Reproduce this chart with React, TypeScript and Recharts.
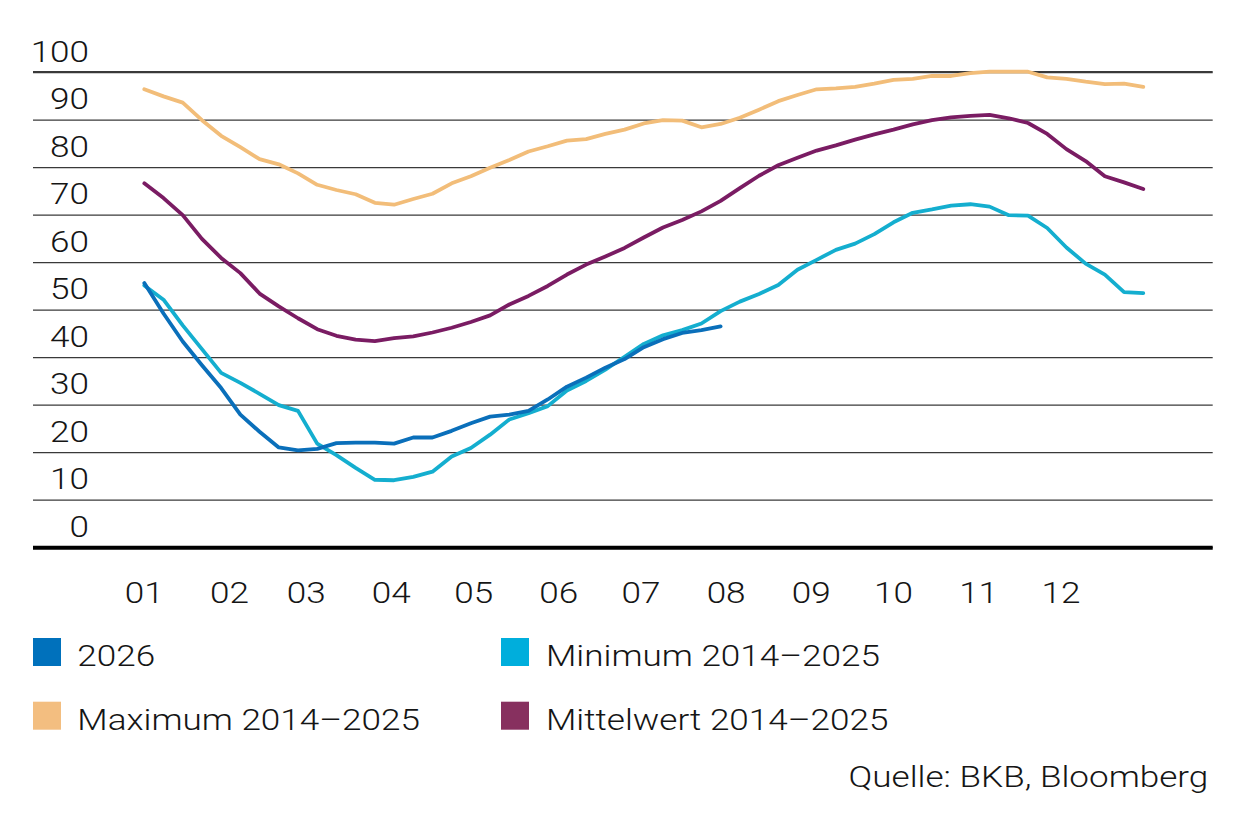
import React from 'react';
import { LineChart, Line, XAxis, YAxis, CartesianGrid } from 'recharts';

// Day-of-year of each weekly observation
const days = [0, 7, 14, 21, 28, 35, 42, 49, 56, 63, 70, 77, 84, 91, 98, 105, 112, 119, 126, 133, 140, 147, 154, 161, 168, 175, 182, 189, 196, 203, 210, 217, 224, 231, 238, 245, 252, 259, 266, 273, 280, 287, 294, 301, 308, 315, 322, 329, 336, 343, 350, 357, 364];

const series2026 = [55.7, 49.3, 43.4, 38.4, 33.6, 28.0, 24.4, 21.1, 20.5, 20.8, 22.0, 22.1, 22.1, 21.9, 23.2, 23.2, 24.6, 26.2, 27.6, 28.0, 28.8, 31.2, 33.9, 35.8, 37.9, 39.7, 42.2, 43.9, 45.2, 45.8, 46.6];

const seriesMin = [55.2, 52.2, 46.8, 41.8, 36.8, 34.7, 32.4, 30.0, 28.8, 21.9, 19.5, 16.8, 14.3, 14.2, 14.9, 16.0, 19.2, 21.0, 23.8, 27.0, 28.3, 29.8, 33.1, 35.1, 37.5, 40.2, 42.9, 44.7, 45.8, 47.2, 49.8, 51.8, 53.4, 55.3, 58.5, 60.6, 62.7, 64.0, 66.0, 68.5, 70.5, 71.2, 72.0, 72.3, 71.8, 70.0, 69.9, 67.3, 63.2, 59.8, 57.5, 53.8, 53.6];

const seriesMax = [96.5, 95.0, 93.7, 90.0, 86.7, 84.3, 81.8, 80.7, 78.8, 76.4, 75.3, 74.4, 72.6, 72.2, 73.4, 74.5, 76.7, 78.2, 80.0, 81.6, 83.4, 84.5, 85.7, 86.0, 87.1, 88.0, 89.3, 90.0, 89.9, 88.5, 89.2, 90.5, 92.2, 94.0, 95.3, 96.5, 96.7, 97.0, 97.7, 98.5, 98.7, 99.3, 99.3, 99.9, 100.2, 100.2, 100.2, 99.0, 98.7, 98.1, 97.6, 97.7, 97.0];

const seriesMean = [76.7, 73.6, 70.0, 65.0, 61.0, 57.8, 53.5, 50.8, 48.3, 46.0, 44.6, 43.8, 43.5, 44.1, 44.5, 45.3, 46.3, 47.5, 48.9, 51.2, 53.0, 55.1, 57.5, 59.6, 61.3, 63.1, 65.3, 67.4, 69.0, 70.8, 73.0, 75.7, 78.3, 80.5, 82.1, 83.6, 84.7, 85.9, 87.0, 88.0, 89.1, 90.0, 90.6, 90.9, 91.1, 90.4, 89.4, 87.1, 83.9, 81.4, 78.2, 76.9, 75.5];

const monthStarts = [0, 31, 59, 90, 120, 151, 181, 212, 243, 273, 304, 334];
const monthLabels = ['01', '02', '03', '04', '05', '06', '07', '08', '09', '10', '11', '12'];
const yTicks = [0, 10, 20, 30, 40, 50, 60, 70, 80, 90, 100];

const seriesInfo = [
  { key: 'max', name: 'Maximum 2014–2025', color: '#F2BD79', legend: '#F3BE80' },
  { key: 'mean', name: 'Mittelwert 2014–2025', color: '#7A1C63', legend: '#87305F' },
  { key: 'min', name: 'Minimum 2014–2025', color: '#14AECF', legend: '#00AEDC' },
  { key: 'y2026', name: '2026', color: '#0A6FBA', legend: '#0071BC' },
];

const legendOrder = ['y2026', 'min', 'max', 'mean'];
const sourceText = 'Quelle: BKB, Bloomberg';

const data = days.map((d, i) => ({
  day: d,
  y2026: i < series2026.length ? series2026[i] : null,
  min: seriesMin[i],
  max: seriesMax[i],
  mean: seriesMean[i],
}));

const FONT = 'Roboto, "Liberation Sans", Arial, sans-serif';
const SX = 1.17;
const TEXT_COLOR = '#151515';

function SText({ x, y, anchor, children }: { x: number; y: number; anchor: 'start' | 'middle' | 'end'; children: React.ReactNode }) {
  return (
    <text
      transform={`translate(${x},${y}) scale(${SX},1)`}
      x={0}
      y={0}
      textAnchor={anchor}
      fontFamily={FONT}
      fontWeight={300}
      fontSize={30}
      fill={TEXT_COLOR}
    >
      {children}
    </text>
  );
}

const XTick = (props: any) => {
  const { x, y, index } = props;
  return <SText x={x} y={y + 55.3} anchor="middle">{monthLabels[index]}</SText>;
};

const YTick = (props: any) => {
  const { x, y, payload } = props;
  return <SText x={x + 56} y={y - 11} anchor="end">{payload.value}</SText>;
};

export default function App() {
  const byKey: Record<string, (typeof seriesInfo)[number]> = {};
  seriesInfo.forEach((s) => (byKey[s.key] = s));
  const legendPos = [
    { sx: 33, tx: 77.3, y: 638 },
    { sx: 501, tx: 546, y: 638 },
    { sx: 33, tx: 77.3, y: 701.7 },
    { sx: 501, tx: 546, y: 701.7 },
  ];
  return (
    <div style={{ position: 'absolute', left: 0, top: 0, width: 1246, height: 827, background: '#fff' }}>
      <LineChart
        width={1246}
        height={620}
        data={data}
        margin={{ top: 71.7, right: 33.3, left: 0, bottom: 22.3 }}
      >
        <CartesianGrid horizontal vertical={false} stroke="#3a3a3a" strokeWidth={1.2} />
        <XAxis
          dataKey="day"
          type="number"
          domain={[-40.56, 389.3]}
          ticks={monthStarts}
          interval={0}
          allowDataOverflow
          height={50}
          tickLine={false}
          tickSize={0}
          tickMargin={0}
          axisLine={{ stroke: '#000', strokeWidth: 4 }}
          tick={<XTick />}
        />
        <YAxis
          type="number"
          domain={[0, 100]}
          ticks={yTicks}
          interval={0}
          width={33}
          axisLine={false}
          tickLine={false}
          tickSize={0}
          tickMargin={0}
          tick={<YTick />}
        />
        {seriesInfo.map((s) => (
          <Line
            key={s.key}
            dataKey={s.key}
            name={s.name}
            type="linear"
            stroke={s.color}
            strokeWidth={3.8}
            dot={false}
            activeDot={false}
            isAnimationActive={false}
            strokeLinejoin="round"
            strokeLinecap="round"
          />
        ))}
      </LineChart>
      <svg
        width={1246}
        height={827}
        style={{ position: 'absolute', left: 0, top: 0, pointerEvents: 'none' }}
      >
        {legendOrder.map((k, i) => {
          const s = byKey[k];
          const p = legendPos[i];
          return (
            <g key={k}>
              <rect x={p.sx} y={p.y} width={28} height={28} fill={s.legend} />
              <SText x={p.tx} y={p.y + 28} anchor="start">{s.name}</SText>
            </g>
          );
        })}
        <SText x={1208.3} y={786.7} anchor="end">{sourceText}</SText>
      </svg>
    </div>
  );
}
